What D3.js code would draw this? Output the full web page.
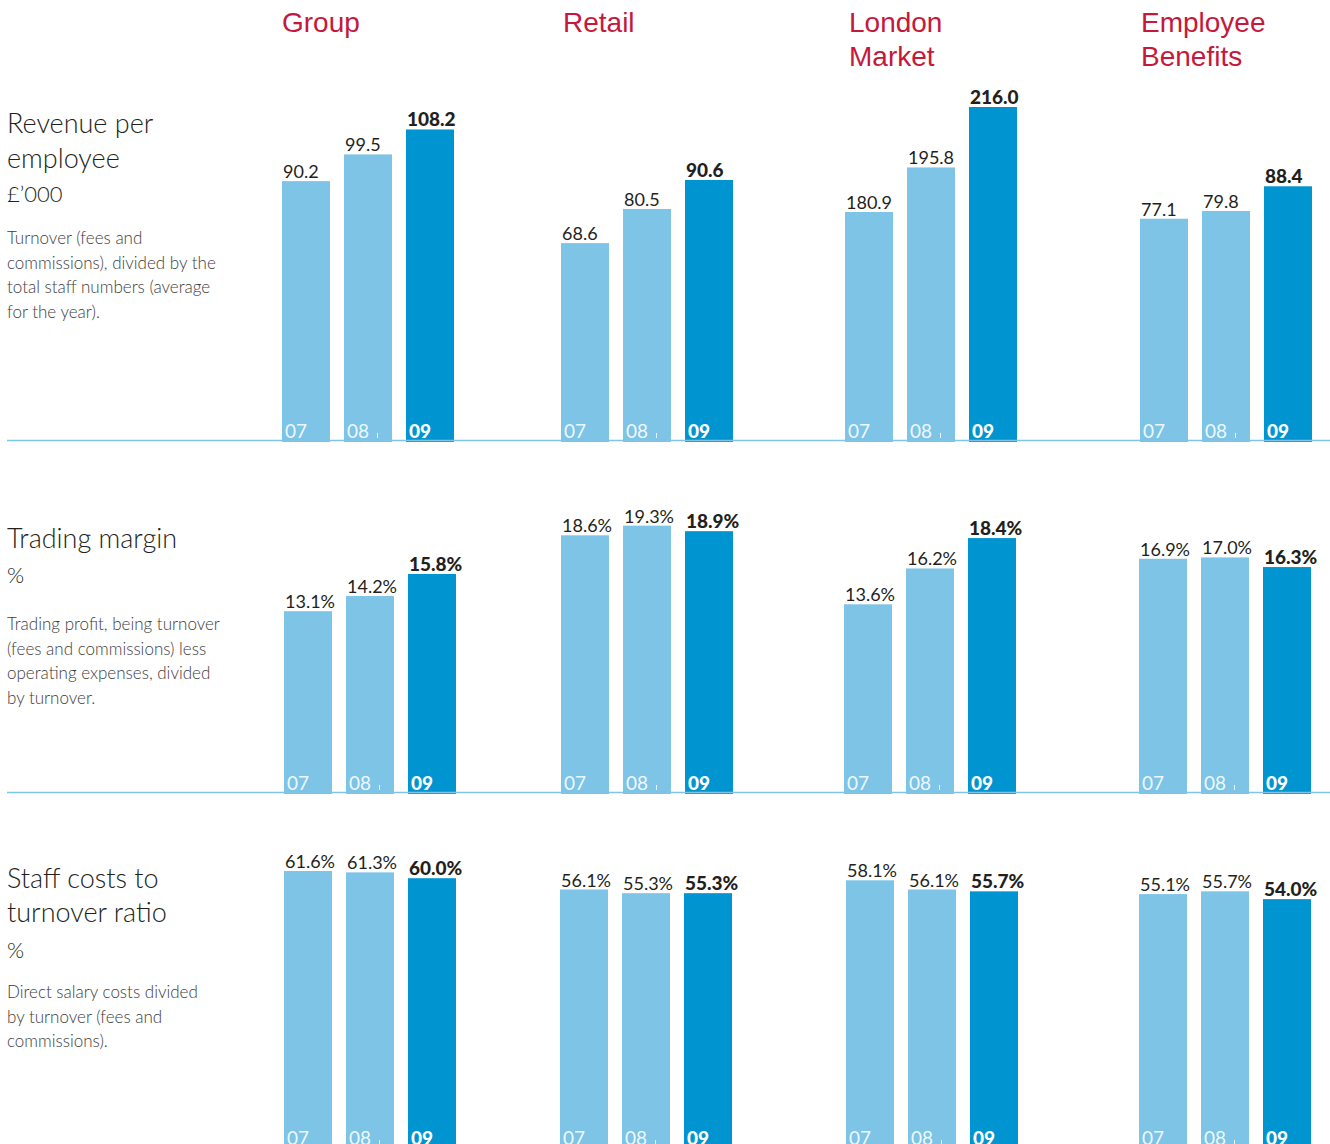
<!DOCTYPE html>
<html>
<head>
<meta charset="utf-8">
<script src="https://cdn.jsdelivr.net/npm/d3@7/dist/d3.min.js"></script>
<style>
  html, body { margin: 0; padding: 0; background: #fff; }
  svg { display: block; }
  text { font-family: Lato, "Noto Sans", sans-serif; }
</style>
</head>
<body>
<script>
// ---- DATA ----
const categories = ["Group", "Retail", "London Market", "Employee Benefits"];
const headerLines = [["Group"], ["Retail"], ["London", "Market"], ["Employee", "Benefits"]];
const years = ["07", "08", "09"];
const revenuePerEmployee = [[90.2, 99.5, 108.2], [68.6, 80.5, 90.6], [180.9, 195.8, 216.0], [77.1, 79.8, 88.4]];
const tradingMargin = [[13.1, 14.2, 15.8], [18.6, 19.3, 18.9], [13.6, 16.2, 18.4], [16.9, 17.0, 16.3]];
const staffCostRatio = [[61.6, 61.3, 60.0], [56.1, 55.3, 55.3], [58.1, 56.1, 55.7], [55.1, 55.7, 54.0]];

const rowTitles = [
  ["Revenue per", "employee"],
  ["Trading margin"],
  ["Staff costs to", "turnover ratio"]
];
const rowUnits = ["£’000", "%", "%"];
const rowDescriptions = [
  ["Turnover (fees and", "commissions), divided by the", "total staff numbers (average", "for the year)."],
  ["Trading profit, being turnover", "(fees and commissions) less", "operating expenses, divided", "by turnover."],
  ["Direct salary costs divided", "by turnover (fees and", "commissions)."]
];
const rowSuffix = ["", "%", "%"];

// ---- LAYOUT ----
const W = 1330, H = 1144;
const light = "#7dc4e7", dark = "#0094d0", red = "#c5183b", ink = "#231f20", grey = "#3d3d3d";

const rows = [
  { data: revenuePerEmployee, base: 440, panelX: [282, 561, 845, 1140],
    domains: [[0, 100], [0, 100], [104.7, 216], [0, 100]], px: [287, 287, 333, 287],
    line: true,
    titleY: [133, 168], unitY: 202, descY: 244, unitSize: 22 },
  { data: tradingMargin, base: 792, panelX: [284, 561, 844, 1139],
    domains: [[0, 10], [0, 10], [0, 10], [0, 10]], px: [138, 138, 138, 138],
    line: true,
    titleY: [548], unitY: 583, descY: 630, unitSize: 22 },
  { data: staffCostRatio, base: 1147, panelX: [284, 560, 846, 1139],
    domains: [[0, 10], [0, 10], [0, 10], [0, 10]], px: [44.8, 45.9, 45.9, 45.9],
    line: false,
    titleY: [888, 922], unitY: 958, descY: 998, unitSize: 22 }
];

const svg = d3.select("body").append("svg").attr("width", W).attr("height", H);

// Headers
headerLines.forEach((lines, i) => {
  const x = [282, 563, 849, 1141][i];
  lines.forEach((ln, j) => {
    svg.append("text").attr("x", x).attr("y", 32 + j * 34)
      .attr("fill", red)
      .style("font-family", "'Liberation Sans', Arial, sans-serif")
      .style("font-size", "28px")
      .text(ln);
  });
});

rows.forEach((row, r) => {
  const g = svg.append("g");
  row.titleY.forEach((y, j) => {
    g.append("text").attr("x", 7).attr("y", y).attr("fill", ink)
      .style("font-size", "27px").style("font-weight", 300).text(rowTitles[r][j]);
  });
  g.append("text").attr("x", 7).attr("y", row.unitY).attr("fill", ink)
    .style("font-size", row.unitSize + "px").style("font-weight", 300).text(rowUnits[r]);
  rowDescriptions[r].forEach((ln, j) => {
    g.append("text").attr("x", 7).attr("y", row.descY + j * 24.5).attr("fill", grey)
      .style("font-size", "17px").style("font-weight", 300).text(ln);
  });

  row.data.forEach((vals, p) => {
    const x = d3.scaleBand().domain(years)
      .range([row.panelX[p], row.panelX[p] + 172])
      .paddingInner(14 / 62).paddingOuter(0);
    const y = d3.scaleLinear().domain(row.domains[p])
      .range([row.base, row.base - row.px[p]]);
    const pg = g.append("g");
    const fmt = d3.format(".1f");
    vals.forEach((v, k) => {
      const yr = years[k];
      const latest = k === years.length - 1;
      pg.append("rect")
        .attr("x", x(yr)).attr("y", y(v))
        .attr("width", x.bandwidth()).attr("height", row.base - y(v) + 2)
        .attr("fill", latest ? dark : light);
      pg.append("text")
        .attr("x", x(yr) + 1).attr("y", y(v) - 3)
        .attr("fill", ink)
        .style("font-size", latest ? "19px" : "18px")
        .style("font-weight", latest ? 900 : 400)
        .text(fmt(v) + rowSuffix[r]);
      pg.append("text")
        .attr("x", x(yr) + 3).attr("y", row.base - 2)
        .attr("fill", "#fff")
        .attr("fill-opacity", latest ? 1 : 0.9)
        .style("font-size", "19px")
        .style("font-weight", latest ? 900 : 400)
        .text(yr);
      if (k === 1) {
        pg.append("line")
          .attr("x1", x(yr) + 33.5).attr("x2", x(yr) + 33.5)
          .attr("y1", row.base - 7).attr("y2", row.base - 2)
          .attr("stroke", "#fff").attr("stroke-opacity", 0.85).attr("stroke-width", 1);
      }
    });
  });

  if (row.line) {
    g.append("line").attr("x1", 7).attr("x2", W)
      .attr("y1", row.base + 0.5).attr("y2", row.base + 0.5)
      .attr("stroke", light).attr("stroke-width", 1.5);
  }
});
</script>
</body>
</html>
